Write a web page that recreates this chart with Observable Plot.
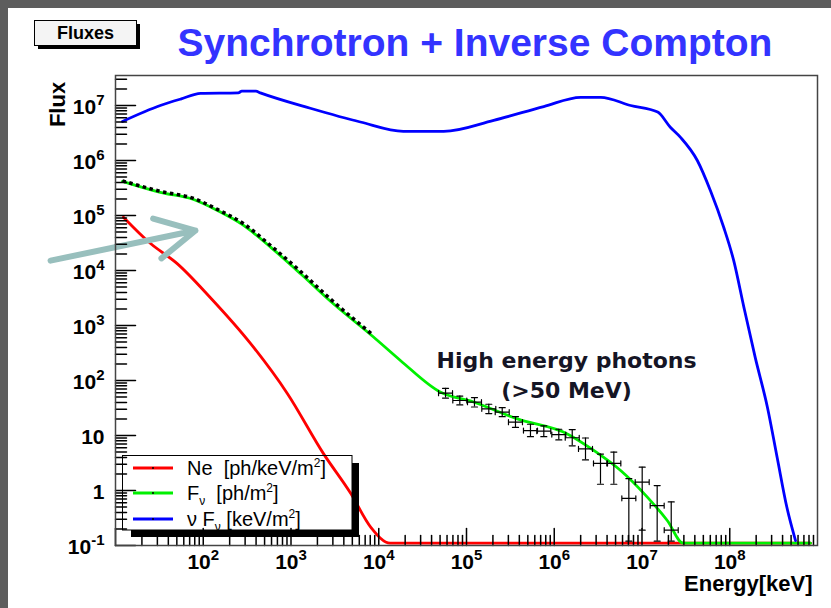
<!DOCTYPE html>
<html><head><meta charset="utf-8">
<script src="https://cdn.jsdelivr.net/npm/d3@7"></script>
<script src="https://cdn.jsdelivr.net/npm/@observablehq/plot@0.6"></script>
<style>
html,body{margin:0;padding:0;width:831px;height:608px;overflow:hidden;background:#5d5d5d;}
#panel{position:absolute;left:8px;top:8px;width:823px;height:600px;background:#fff;}
#chart{position:absolute;left:0;top:0;width:831px;height:608px;}
#overlay{position:absolute;left:0;top:0;pointer-events:none;font-family:'Liberation Sans',Arial,sans-serif;}
</style></head><body>
<div id="panel"></div>
<div id="chart"></div>
<svg id="overlay" width="831" height="608"></svg>
<script>
// ---------- data (energy in keV) ----------
const neEnergy = [12.3, 25.1, 50.1, 120, 347, 912, 2344, 4786, 8128, 13490, 8.32e8];
const neFlux   = [9.33e4, 3.09e4, 1.35e4, 3236, 468, 57.5, 4.68, 0.891, 0.214, 0.11, 0.11];

const fnuEnergy = [12.0, 32.4, 77.6, 145, 288, 589, 1288, 2818, 8710, 17780, 50100, 120200, 380200, 1.41e6, 2.82e6, 5.75e6, 1.15e7, 1.95e7, 2.95e7, 8.32e8];
const fnuFlux   = [4.17e5, 2.63e5, 1.95e5, 1.23e5, 6.61e4, 2.63e4, 8710, 2754, 617, 229, 61.7, 40.7, 20.0, 10.7, 5.37, 2.29, 0.759, 0.282, 0.11, 0.11];

const nuFnuEnergy = [12.0, 32.4, 56.2, 93.3, 251, 275, 398, 447, 1660, 6170, 19050, 55000, 204000, 759000, 2.0e6, 3.39e6, 7.41e6, 1.51e7, 2.09e7, 2.75e7, 4.27e7, 6.03e7, 8.51e7, 1.11e8, 1.45e8, 1.95e8, 2.69e8, 3.47e8, 4.47e8, 5.62e8];
const nuFnuFlux   = [5.13e6, 1.0e7, 1.32e7, 1.66e7, 1.70e7, 1.82e7, 1.82e7, 1.70e7, 8.91e6, 5.01e6, 3.39e6, 3.39e6, 5.37e6, 9.55e6, 1.41e7, 1.41e7, 1.0e7, 7.59e6, 4.07e6, 2.63e6, 1.0e6, 2.82e5, 6.17e4, 1.51e4, 2140, 263, 32.4, 3.98, 0.50, 0.123];

const syncEnergy = [12.0, 32.4, 77.6, 145, 288, 589, 1288, 2818, 8710];
const syncFlux   = [4.27e5, 2.75e5, 2.04e5, 1.29e5, 7.08e4, 2.82e4, 9550, 3020, 661];

const gammaEnergy = [57700, 83900, 123300, 179500, 255300, 361400, 535800, 760300, 1.127e6, 1.603e6, 2.270e6, 3.365e6, 4.775e6, 7.079e6, 1.005e7, 1.489e7, 2.153e7];
const gammaFlux   = [58.7, 43.3, 40.3, 30.5, 26.5, 17.5, 12.3, 12.0, 10.4, 9.1, 5.7, 3.1, 3.1, 0.72, 1.42, 0.53, 0.19];
const gammaLow    = [48, 36, 33, 25, 22, 14, 9.5, 9.5, 8.3, 6.5, 3.6, 1.3, 1.3, 0.12, 0.19, 0.12, 0.12];
const gammaHigh   = [72, 52, 49, 37, 32, 22, 16, 15, 13, 12.8, 9.0, 4.6, 5.0, 1.65, 2.65, 1.23, 0.62];

const xTickValues = [10, 100, 1e3, 1e4, 1e5, 1e6, 1e7, 1e8];
const xTickLabels = ["", "10^2", "10^3", "10^4", "10^5", "10^6", "10^7", "10^8"];
const yTickValues = [0.1, 1, 10, 100, 1e3, 1e4, 1e5, 1e6, 1e7];
const yTickLabels = ["10^-1", "1", "10", "10^2", "10^3", "10^4", "10^5", "10^6", "10^7"];

const titleText = "Synchrotron + Inverse Compton";
const boxText = "Fluxes";
const xLabel = "Energy[keV]";
const yLabel = "Flux";
const noteLines  = ["High energy photons", "(>50 MeV)"];
const noteEnergy = [1.38e6, 1.38e6];
const noteFlux   = [231, 64];
const arrowTail = [1.82, 15100];   // [energy, flux]
const arrowHead = [81.6, 53300];

const seriesColors = ["#ff0000", "#00f000", "#0000ff"];
const legendEntries = [
  [["Ne  [ph/keV/m", 0], ["2", 1], ["]", 0]],
  [["F", 0], ["\u03bd", -1], ["  [ph/m", 0], ["2", 1], ["]", 0]],
  [["\u03bd F", 0], ["\u03bd", -1], [" [keV/m", 0], ["2", 1], ["]", 0]]
];

// ---------- build rows ----------
const zip = (xs, ys) => xs.map((x, i) => ({E: x, F: ys[i]}));
const ne = zip(neEnergy, neFlux);
const fnu = zip(fnuEnergy, fnuFlux);
const nufnu = zip(nuFnuEnergy, nuFnuFlux);
const sync = zip(syncEnergy, syncFlux);
const gamma = gammaEnergy.map((E, i) => ({E, F: gammaFlux[i], lo: gammaLow[i], hi: gammaHigh[i]}));

const xMinor = [], yMinor = [];
for (let k = 1; k <= 8; k++) for (let m = 2; m <= 9; m++) xMinor.push(m * 10 ** k);
for (let k = -1; k <= 7; k++) for (let m = 2; m <= 9; m++) { const v = m * 10 ** k; if (v < 3.5e7) yMinor.push(v); }

const tickLine = {draw(ctx, l) { ctx.moveTo(0, 0); ctx.lineTo(0, -l); }};
const hBar = {draw(ctx, l) {
  ctx.moveTo(0, 0); ctx.lineTo(0, -l);
  ctx.moveTo(-2.5, 0); ctx.lineTo(2.5, 0);
  ctx.moveTo(-2.5, -l); ctx.lineTo(2.5, -l);
}};

const font = "'Liberation Sans', Arial, sans-serif";

const chart = Plot.plot({
  width: 831, height: 608,
  marginLeft: 115, marginRight: 14, marginTop: 75, marginBottom: 63,
  style: {background: "transparent", fontFamily: font, overflow: "visible"},
  x: {type: "log", domain: [10, 1e9]},
  y: {type: "log", domain: [0.1, 3.51e7]},
  marks: [
    Plot.line(ne, {x: "E", y: "F", stroke: seriesColors[0], strokeWidth: 2.8, curve: "monotone-x"}),
    Plot.line(fnu, {x: "E", y: "F", stroke: seriesColors[1], strokeWidth: 2.8, curve: "monotone-x"}),
    Plot.line(nufnu, {x: "E", y: "F", stroke: seriesColors[2], strokeWidth: 2.8, curve: "monotone-x"}),
    Plot.line(sync, {x: "E", y: "F", stroke: "#000", strokeWidth: 3.5, strokeDasharray: "3.5,3.5", strokeLinecap: "butt", curve: "monotone-x"}),
    Plot.ruleX(gamma, {x: "E", y1: "lo", y2: "hi", stroke: "#000", strokeWidth: 1.2}),
    Plot.vector(gamma, {x: "E", y: "hi", rotate: 90, length: 6, anchor: "middle", shape: tickLine, stroke: "#000", strokeWidth: 1.2}),
    Plot.vector(gamma, {x: "E", y: "lo", rotate: 90, length: 6, anchor: "middle", shape: tickLine, stroke: "#000", strokeWidth: 1.2}),
    Plot.vector(gamma, {x: "E", y: "F", rotate: 90, length: 14, anchor: "middle", shape: hBar, stroke: "#000", strokeWidth: 1.2}),
    Plot.arrow([0], {x1: () => arrowTail[0], y1: () => arrowTail[1], x2: () => arrowHead[0], y2: () => arrowHead[1],
      stroke: "#98bfbd", strokeWidth: 6, headLength: 11, headAngle: 55}),
    Plot.text(noteLines, {x: (d, i) => noteEnergy[i], y: (d, i) => noteFlux[i], text: d => d,
      fontFamily: "'DejaVu Sans', sans-serif", fontWeight: "bold", fontSize: 22, fill: "#151525"}),
    // ticks (inside, ROOT style)
    Plot.vector(yTickValues, {y: d => d, frameAnchor: "left", rotate: 90, length: 20, anchor: "start", shape: tickLine, stroke: "#000"}),
    Plot.vector(yMinor, {y: d => d, frameAnchor: "left", rotate: 90, length: 11, anchor: "start", shape: tickLine, stroke: "#000"}),
    Plot.vector(xTickValues, {x: d => d, frameAnchor: "bottom", rotate: 0, length: 17, anchor: "start", shape: tickLine, stroke: "#000"}),
    Plot.vector(xMinor, {x: d => d, frameAnchor: "bottom", rotate: 0, length: 10, anchor: "start", shape: tickLine, stroke: "#000"}),
    Plot.axisY(yTickValues, {tickSize: 0, tickPadding: 11, dy: 2, label: null,
      tickFormat: d => yTickLabels[yTickValues.indexOf(d)], fontSize: 21, fontWeight: "bold", fill: "#000"}),
    Plot.axisX(xTickValues, {tickSize: 0, tickPadding: 9, label: null,
      tickFormat: d => xTickLabels[xTickValues.indexOf(d)], fontSize: 21, fontWeight: "bold", fill: "#000"}),
    Plot.text([xLabel], {frameAnchor: "bottom-right", text: d => d, textAnchor: "end", dx: -5, dy: 45, fontSize: 22, fontWeight: "bold", fill: "#000"}),
    Plot.frame({stroke: "#444", strokeWidth: 1.5})
  ]
});
document.getElementById("chart").appendChild(chart);

// superscripts in tick labels
d3.select(chart).selectAll("text").each(function() {
  const t = this.textContent;
  if (t.includes("^") && this.childElementCount === 0) {
    const [b, e] = t.split("^");
    this.textContent = b;
    d3.select(this).append("tspan").attr("dy", -9).attr("font-size", 15).text(e);
  }
});

// ---------- overlay: title, box, y label, legend ----------
const ov = d3.select("#overlay");
ov.append("rect").attr("x", 38).attr("y", 24).attr("width", 102).attr("height", 25).attr("fill", "#000");
ov.append("rect").attr("x", 34.5).attr("y", 20.5).attr("width", 102).attr("height", 25).attr("fill", "#f4f4f4").attr("stroke", "#000");
ov.append("text").attr("x", 85.5).attr("y", 39).attr("text-anchor", "middle").attr("font-size", 18).attr("font-weight", "bold").attr("fill", "#000").text(boxText);
ov.append("text").attr("x", 177.5).attr("y", 56).attr("font-size", 39).attr("font-weight", "bold").attr("fill", "#3333ff").text(titleText);
ov.append("text").attr("transform", "translate(65,104.5) rotate(-90)").attr("text-anchor", "middle")
  .attr("font-size", 22).attr("font-weight", "bold").attr("fill", "#000").text(yLabel);

const lg = ov.append("g");
lg.append("rect").attr("x", 352).attr("y", 463).attr("width", 7).attr("height", 74).attr("fill", "#000");
lg.append("rect").attr("x", 131).attr("y", 530).attr("width", 228).attr("height", 7).attr("fill", "#000");
lg.append("rect").attr("x", 122.5).attr("y", 455.5).attr("width", 229.5).attr("height", 74.5).attr("fill", "none").attr("stroke", "#000");
const rowLineY = [468, 493, 519];
const rowBase = [475, 500, 526];
legendEntries.forEach((parts, i) => {
  lg.append("line").attr("x1", 133).attr("x2", 173).attr("y1", rowLineY[i]).attr("y2", rowLineY[i]).attr("stroke", seriesColors[i]).attr("stroke-width", 3);
  lg.append("circle").attr("cx", 153).attr("cy", rowLineY[i]).attr("r", 1).attr("fill", "#000");
  const t = lg.append("text").attr("x", 187).attr("y", rowBase[i]).attr("font-size", 20).attr("fill", "#000").style("white-space", "pre");
  let shift = 0;
  parts.forEach(([s, k]) => {
    const target = k === 1 ? -8 : k === -1 ? 5 : 0;
    t.append("tspan").attr("dy", target - shift).attr("font-size", k === 0 ? 20 : 12).text(s);
    shift = target;
  });
});
</script></body></html>
